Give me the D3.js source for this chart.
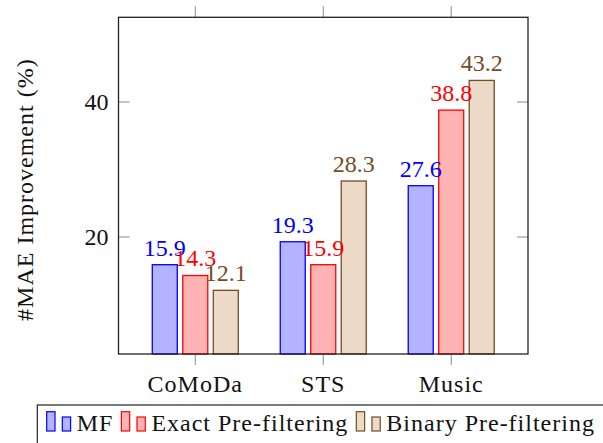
<!DOCTYPE html>
<html>
<head>
<meta charset="utf-8">
<script src="https://cdn.jsdelivr.net/npm/d3@7"></script>
<style>
  html, body { margin: 0; padding: 0; background: #fff; }
</style>
</head>
<body>
<div id="chart"></div>
<script>
// data
const categories = ["CoMoDa", "STS", "Music"];
const seriesNames = ["MF", "Exact Pre-filtering", "Binary Pre-filtering"];
const mfValues = [15.9, 19.3, 27.6];
const exactValues = [14.3, 15.9, 38.8];
const binaryValues = [12.1, 28.3, 43.2];
const yTicks = [20, 40];

const strokeColors = ["#0000ff", "#ff0000", "#734d26"];
const fillColors = ["#b3b3ff", "#ffb3b3", "#ecd9c6"];

const width = 603, height = 443;
const fontSize = 24;
const box = { left: 118.5, right: 528, top: 17.3, bottom: 354 };

// serif face set right on each text
const serifText = sel => sel
  .attr("font-family", "Liberation Serif")
  .style("font-family", '"Liberation Serif"')
  .attr("font-size", fontSize);

const svg = d3.select("#chart").append("svg")
  .attr("width", width)
  .attr("height", height);

const x = d3.scaleLinear().domain([-0.6, categories.length - 1 + 0.6]).range([box.left, box.right]);
const y = d3.scaleLinear().domain([2.67, 52.55]).range([box.bottom, box.top]);

const barWidth = 25;
const barStep = 30.5;

const series = [mfValues, exactValues, binaryValues].map((vals, s) => ({
  name: seriesNames[s],
  values: vals.map((v, i) => ({ i: i, v: v }))
}));

// bars
series.forEach((ser, s) => {
  const off = (s - 1) * barStep;
  svg.append("g").selectAll("rect")
    .data(ser.values)
    .join("rect")
    .attr("x", d => x(d.i) + off - barWidth / 2)
    .attr("y", d => y(d.v))
    .attr("width", barWidth)
    .attr("height", d => y.range()[0] - y(d.v))
    .attr("fill", fillColors[s])
    .attr("stroke", strokeColors[s])
    .attr("stroke-width", 1.3);
});

// value labels (drawn after so they sit on top)
series.forEach((ser, s) => {
  const off = (s - 1) * barStep;
  svg.append("g").selectAll("text")
    .data(ser.values)
    .join("text")
    .call(serifText)
    .attr("x", d => x(d.i) + off)
    .attr("y", d => y(d.v) - 9)
    .attr("text-anchor", "middle")
    .attr("fill", strokeColors[s])
    .text(d => d.v.toFixed(1));
});

// ticks
const tickColor = "#8a8a8a";
const tickLen = 11;
const xt = svg.append("g");
categories.forEach((c, i) => {
  xt.append("line").attr("x1", x(i)).attr("x2", x(i))
    .attr("y1", box.top).attr("y2", box.top - tickLen)
    .attr("stroke", tickColor).attr("stroke-width", 1);
  xt.append("line").attr("x1", x(i)).attr("x2", x(i))
    .attr("y1", box.bottom).attr("y2", box.bottom + tickLen)
    .attr("stroke", tickColor).attr("stroke-width", 1);
});
xt.selectAll("text")
  .data(categories)
  .join("text")
  .call(serifText)
  .attr("x", (d, i) => x(i))
  .attr("y", 392)
  .attr("text-anchor", "middle")
  .attr("letter-spacing", 1)
  .attr("fill", "#111")
  .text(d => d);

const yt = svg.append("g");
yTicks.forEach(t => {
  yt.append("line").attr("x1", box.left).attr("x2", box.left + tickLen)
    .attr("y1", y(t)).attr("y2", y(t))
    .attr("stroke", tickColor).attr("stroke-width", 1);
  yt.append("line").attr("x1", box.right).attr("x2", box.right - tickLen)
    .attr("y1", y(t)).attr("y2", y(t))
    .attr("stroke", tickColor).attr("stroke-width", 1);
});
yt.selectAll("text")
  .data(yTicks)
  .join("text")
  .call(serifText)
  .attr("x", box.left - 10)
  .attr("y", d => y(d))
  .attr("dy", "0.33em")
  .attr("text-anchor", "end")
  .attr("fill", "#111")
  .text(d => d);

// frame
svg.append("rect")
  .attr("x", box.left).attr("y", box.top)
  .attr("width", box.right - box.left)
  .attr("height", box.bottom - box.top)
  .attr("fill", "none")
  .attr("stroke", "#222")
  .attr("stroke-width", 1.3);

// y label
svg.append("text")
  .call(serifText)
  .attr("transform", `translate(33,${(box.top + box.bottom) / 2 + 4}) rotate(-90)`)
  .attr("text-anchor", "middle")
  .attr("letter-spacing", 1)
  .attr("fill", "#111")
  .text("#MAE Improvement (%)");

// legend
const legend = svg.append("g");
legend.append("rect")
  .attr("x", 37.3).attr("y", 405)
  .attr("width", 620).attr("height", 60)
  .attr("fill", "#fff")
  .attr("stroke", "#222")
  .attr("stroke-width", 1.2);

let lx = 46.7;
const baseY = 431;
seriesNames.forEach((name, s) => {
  legend.append("rect")
    .attr("x", lx).attr("y", baseY - 19.3)
    .attr("width", 8.3).attr("height", 19.3)
    .attr("fill", fillColors[s]).attr("stroke", strokeColors[s]).attr("stroke-width", 1.2);
  legend.append("rect")
    .attr("x", lx + 15.6).attr("y", baseY - 14)
    .attr("width", 8.3).attr("height", 14)
    .attr("fill", fillColors[s]).attr("stroke", strokeColors[s]).attr("stroke-width", 1.2);
  const t = legend.append("text")
    .call(serifText)
    .attr("x", lx + 30)
    .attr("y", baseY)
    .attr("letter-spacing", 1)
    .attr("fill", "#111")
    .text(name);
  lx += 30 + t.node().getComputedTextLength() + 8;
});
</script>
</body>
</html>
